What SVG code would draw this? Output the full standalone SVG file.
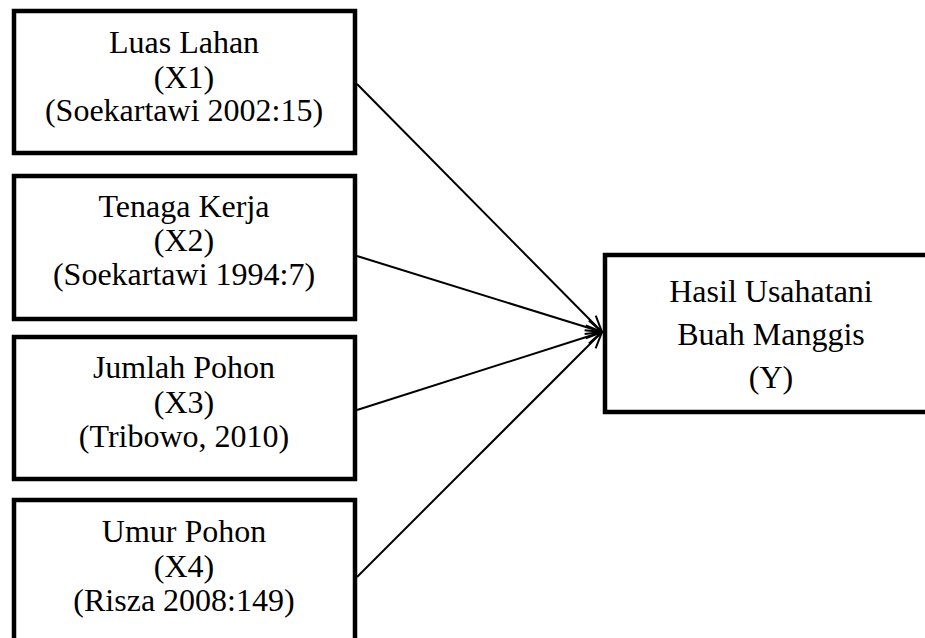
<svg xmlns="http://www.w3.org/2000/svg" width="925" height="638" viewBox="0 0 925 638">
<style>
.box{fill:#fff;stroke:#000;stroke-width:4.5}
.t{font-family:"Liberation Serif","Times New Roman",serif;font-size:32px;fill:#000;text-anchor:middle}
.c{stroke:#000;stroke-width:2;fill:none;marker-end:url(#arr)}
</style>
<defs>
<marker id="arr" markerUnits="userSpaceOnUse" markerWidth="20" markerHeight="20" refX="17" refY="8" orient="auto" viewBox="0 0 20 16">
<path d="M1,1 L17,8 L1,15" fill="none" stroke="#000" stroke-width="2"/>
</marker>
</defs>
<rect width="925" height="638" fill="#fff"/>
<g id="connectors">
<line class="c" x1="357" y1="84" x2="602" y2="332"/>
<line class="c" x1="357" y1="256" x2="602" y2="332"/>
<line class="c" x1="357" y1="410" x2="602" y2="332"/>
<line class="c" x1="357" y1="577" x2="602" y2="332"/>
</g>
<g id="x1">
<rect class="box" x="14" y="11" width="341" height="142"/>
<text class="t" x="184" y="53">Luas Lahan</text>
<text class="t" x="184" y="88">(X1)</text>
<text class="t" x="184" y="121">(Soekartawi 2002:15)</text>
</g>
<g id="x2">
<rect class="box" x="14" y="176" width="341" height="143"/>
<text class="t" x="184" y="217">Tenaga Kerja</text>
<text class="t" x="184" y="251">(X2)</text>
<text class="t" x="184" y="285">(Soekartawi 1994:7)</text>
</g>
<g id="x3">
<rect class="box" x="14" y="337" width="341" height="142"/>
<text class="t" x="184" y="378">Jumlah Pohon</text>
<text class="t" x="184" y="413">(X3)</text>
<text class="t" x="184" y="447">(Tribowo, 2010)</text>
</g>
<g id="x4">
<rect class="box" x="14" y="500" width="341" height="150"/>
<text class="t" x="184" y="542">Umur Pohon</text>
<text class="t" x="184" y="577">(X4)</text>
<text class="t" x="184" y="611">(Risza 2008:149)</text>
</g>
<g id="y">
<rect class="box" x="605" y="255" width="335" height="157"/>
<text class="t" x="771" y="302">Hasil Usahatani</text>
<text class="t" x="771" y="345">Buah Manggis</text>
<text class="t" x="771" y="388">(Y)</text>
</g>
</svg>
